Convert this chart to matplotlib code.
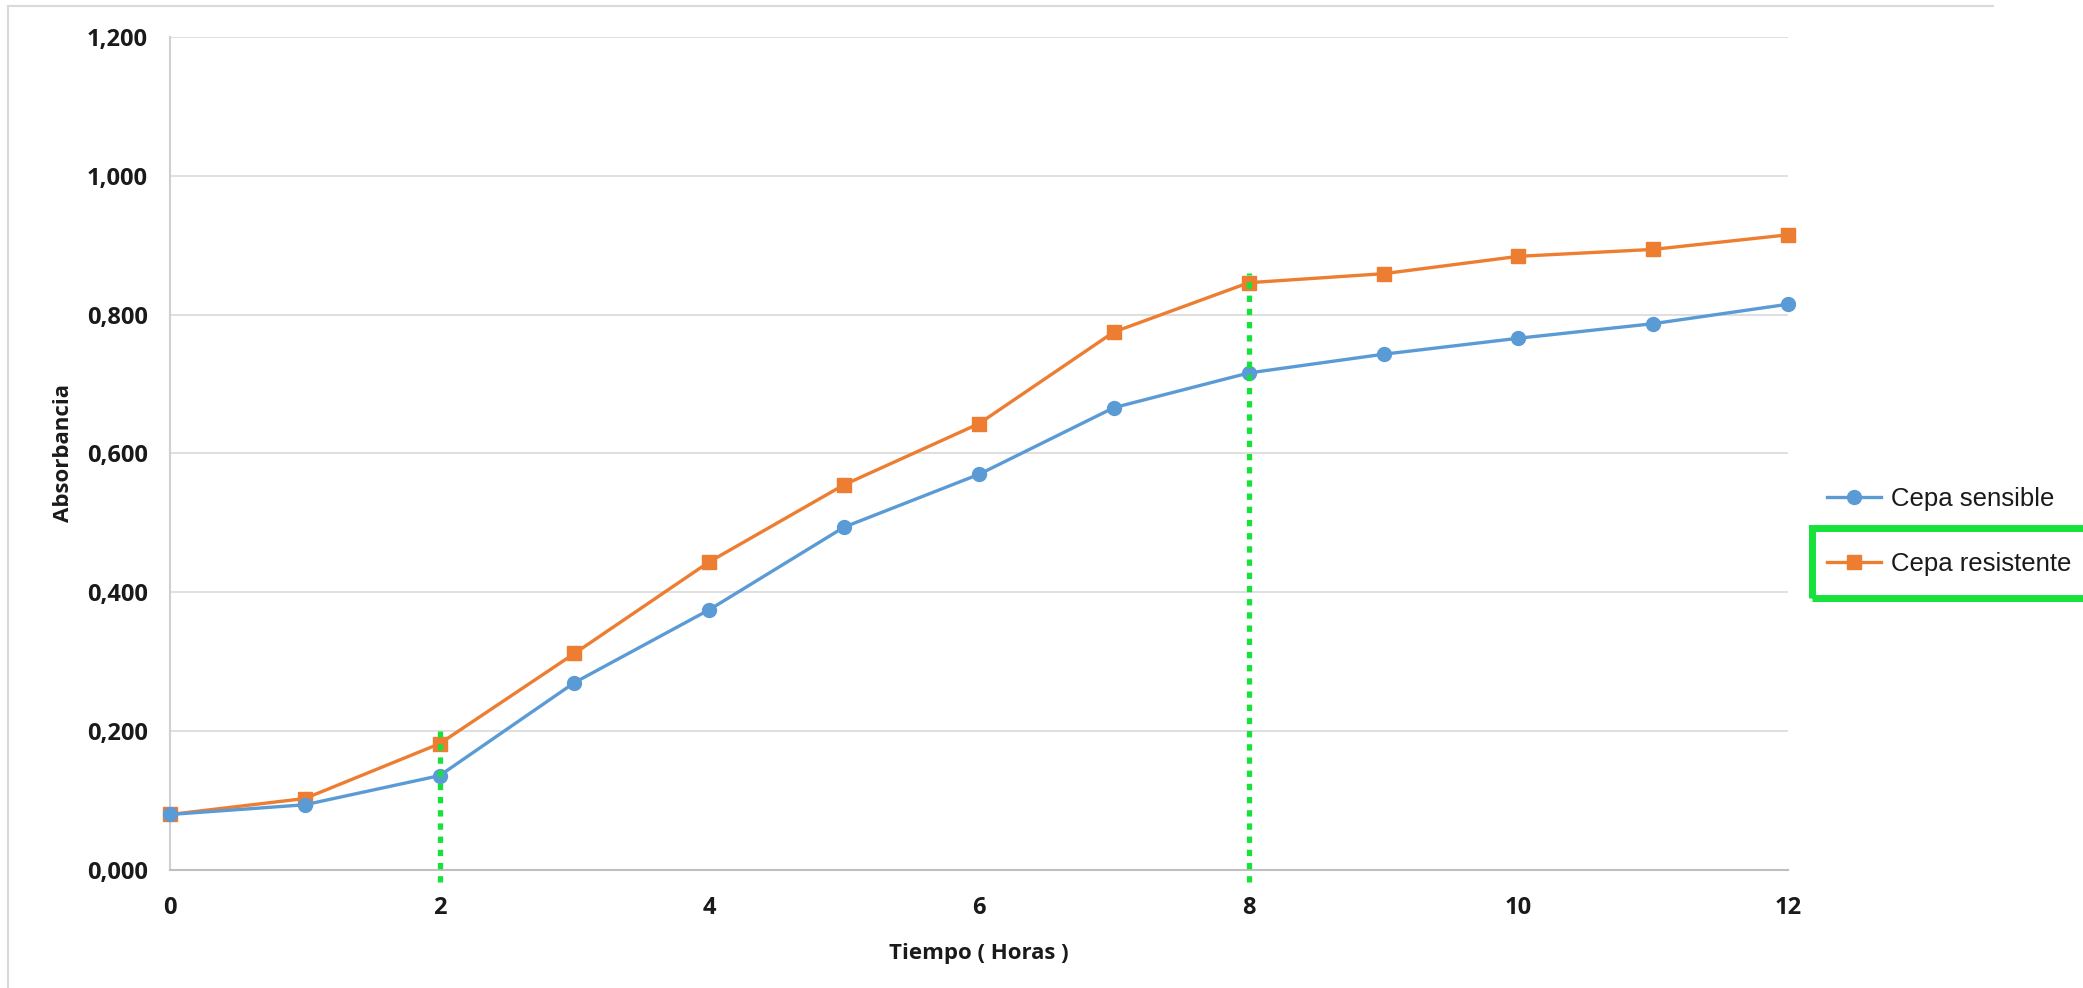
import matplotlib
matplotlib.use("Agg")
import matplotlib.pyplot as plt
import matplotlib.ticker as ticker
from matplotlib.lines import Line2D
from matplotlib.patches import Rectangle

# absorbance readings per hour
hours = [0, 1, 2, 3, 4, 5, 6, 7, 8, 9, 10, 11, 12]
sensible = [0.080, 0.094, 0.136, 0.270, 0.375, 0.494, 0.570, 0.666, 0.716, 0.743, 0.766, 0.787, 0.815]
resistente = [0.080, 0.103, 0.182, 0.312, 0.444, 0.555, 0.643, 0.775, 0.846, 0.859, 0.884, 0.894, 0.915]
labels = ["Cepa sensible", "Cepa resistente"]

# dotted guides marking the growth phases
guide_hours = [2, 8]
guide_tops = [0.20, 0.86]

blue = "#5B9BD5"
orange = "#ED7D31"
green = "#16E23A"
grid_grey = "#d9d9d9"
text_col = "#1a1a1a"
bold_font = "Open Sans"

fig = plt.figure(figsize=(20.83, 9.88), dpi=100)
ax = fig.add_axes([0.0816, 0.1194, 0.7768, 0.8432])

ax.plot(hours, sensible, color=blue, lw=2.4, marker="o", ms=10, clip_on=False, zorder=4, label=labels[0])
ax.plot(hours, resistente, color=orange, lw=2.4, marker="s", ms=9.5, clip_on=False, zorder=3, label=labels[1])

for h, top in zip(guide_hours, guide_tops):
    ax.plot([h, h], [-0.017, top], color=green, lw=3.8, dashes=(1.2, 1.3),
            clip_on=False, zorder=5, solid_capstyle="butt", dash_capstyle="butt")

ax.set_xlim(0, 12)
ax.set_ylim(0, 1.2)
ax.xaxis.set_major_locator(ticker.MultipleLocator(2))
ax.yaxis.set_major_locator(ticker.MultipleLocator(0.2))
ax.yaxis.set_major_formatter(ticker.FuncFormatter(lambda v, p: f"{v:.3f}".replace(".", ",")))

ax.grid(axis="y", color=grid_grey, lw=1.2)
ax.set_axisbelow(True)
for s in ["top", "right"]:
    ax.spines[s].set_visible(False)
ax.spines["left"].set_color("#d0d0d0")
ax.spines["left"].set_linewidth(1.5)
ax.spines["bottom"].set_color("#bfbfbf")
ax.spines["bottom"].set_linewidth(1.5)

ax.tick_params(length=0, labelsize=17, labelcolor=text_col)
ax.tick_params(axis="y", pad=16)
ax.tick_params(axis="x", pad=19)
for t in ax.get_xticklabels() + ax.get_yticklabels():
    t.set_fontfamily(bold_font)
    t.set_fontweight("bold")

ax.set_xlabel("Tiempo ( Horas )", fontsize=16, fontweight="bold", family=bold_font, color=text_col, labelpad=16)
ax.set_ylabel("Absorbancia", fontsize=16, fontweight="bold", family=bold_font, color=text_col, labelpad=9)

# legend on the right side of the chart
leg = fig.legend(loc="upper left", bbox_to_anchor=(0.877, 0.507), frameon=False,
                 prop={"family": "Liberation Sans", "size": 18.5}, handlelength=2.1,
                 handletextpad=0.4, labelspacing=1.6, borderpad=0, borderaxespad=0)
for t in leg.get_texts():
    t.set_color(text_col)

# highlight box around the resistant strain entry
fig.patches.append(Rectangle((1812 / 2083, 1 - 598 / 988), 300 / 2083, 70 / 988,
                             transform=fig.transFigure, fill=False, ec=green, lw=5))

# outer chart frame (top and left edges)
fig.add_artist(Line2D([8 / 2083, 1993 / 2083], [1 - 6 / 988, 1 - 6 / 988], color=grid_grey, lw=1.5))
fig.add_artist(Line2D([8 / 2083, 8 / 2083], [1 - 6 / 988, 0], color=grid_grey, lw=1.5))

fig.savefig("out.png", dpi=100)
